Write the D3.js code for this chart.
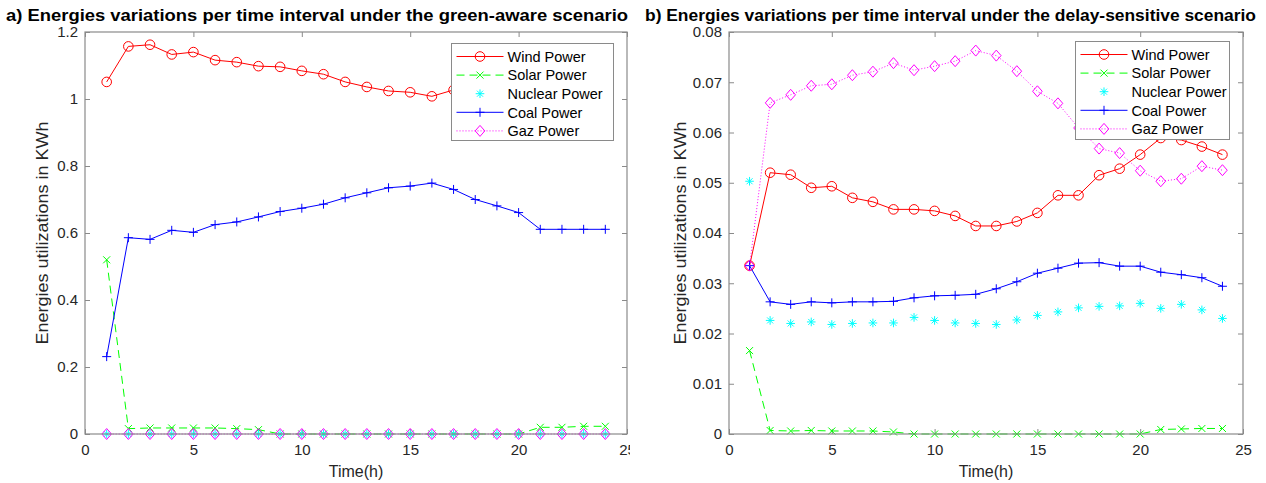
<!DOCTYPE html>
<html lang="en">
<head>
<meta charset="UTF-8" />
<title>Energies variations per time interval</title>
<style>
  body { margin: 0; background: #fff; font-family: "Liberation Sans", Arial, sans-serif; }
  svg { display: block; background: #fff; }
  .title { font-weight: bold; font-size: 17px; fill: #000; }
  .axis-label { font-size: 16px; fill: #262626; }
  .legend text { font-size: 14.5px; fill: #000; }
</style>
</head>
<body>
<svg width="1266" height="483"></svg>
<script src="https://d3js.org/d3.v7.min.js"></script>
<script>
// ---- data ----
const hours = [1, 2, 3, 4, 5, 6, 7, 8, 9, 10, 11, 12, 13, 14, 15, 16, 17, 18, 19, 20, 21, 22, 23, 24];
const seriesNames = ["Wind Power", "Solar Power", "Nuclear Power", "Coal Power", "Gaz Power"];

// a) green-aware scenario
const greenWind = [1.051, 1.157, 1.162, 1.133, 1.14, 1.116, 1.11, 1.098, 1.096, 1.084, 1.074, 1.051,
  1.036, 1.024, 1.02, 1.008, 1.027, 1.04, 1.06, 1.08, 1.09, 1.1, 1.1, 1.1];
const greenSolar = [0.52, 0.016, 0.018, 0.018, 0.018, 0.018, 0.016, 0.013, 0, 0, 0, 0,
  0, 0, 0, 0, 0, 0, 0, 0, 0.02, 0.02, 0.023, 0.023];
const greenNuclear = [0, 0, 0, 0, 0, 0, 0, 0, 0, 0, 0, 0, 0, 0, 0, 0, 0, 0, 0, 0, 0, 0, 0, 0];
const greenCoal = [0.231, 0.586, 0.581, 0.608, 0.602, 0.625, 0.633, 0.648, 0.664, 0.674, 0.686, 0.705,
  0.72, 0.735, 0.74, 0.749, 0.73, 0.7, 0.681, 0.661, 0.611, 0.611, 0.611, 0.611];
const greenGaz = [0, 0, 0, 0, 0, 0, 0, 0, 0, 0, 0, 0, 0, 0, 0, 0, 0, 0, 0, 0, 0, 0, 0, 0];

// b) delay-sensitive scenario
const delayWind = [0.0335, 0.052, 0.0516, 0.049, 0.0493, 0.047, 0.0462, 0.0447, 0.0447, 0.0444, 0.0434, 0.0414,
  0.0414, 0.0423, 0.044, 0.0475, 0.0475, 0.0515, 0.0528, 0.0556, 0.0589, 0.0585, 0.0572, 0.0556];
const delaySolar = [0.0166, 0.0007, 0.0006, 0.0007, 0.0006, 0.0006, 0.0006, 0.0004, 0, 0, 0, 0,
  0, 0, 0, 0, 0, 0, 0, 0, 0.0009, 0.001, 0.0011, 0.0011];
const delayNuclear = [0.0503, 0.0226, 0.022, 0.0223, 0.0218, 0.022, 0.0221, 0.0221, 0.0232, 0.0226, 0.0221, 0.022,
  0.0218, 0.0227, 0.0236, 0.0243, 0.0251, 0.0254, 0.0255, 0.026, 0.025, 0.0258, 0.0247, 0.023];
const delayCoal = [0.0335, 0.0263, 0.0258, 0.0263, 0.0261, 0.0263, 0.0263, 0.0264, 0.0271, 0.0275, 0.0276, 0.0278,
  0.0289, 0.0303, 0.032, 0.033, 0.034, 0.0341, 0.0334, 0.0334, 0.0322, 0.0317, 0.0311, 0.0294];
const delayGaz = [0.0335, 0.0659, 0.0675, 0.0693, 0.0696, 0.0714, 0.0721, 0.0738, 0.0724, 0.0732, 0.0742, 0.0763,
  0.0753, 0.0722, 0.0682, 0.0658, 0.0609, 0.0568, 0.0559, 0.0524, 0.0503, 0.0508, 0.0533, 0.0525];

const xTicks = [0, 5, 10, 15, 20, 25];
const greenYTicks = [0, 0.2, 0.4, 0.6, 0.8, 1, 1.2];
const delayYTicks = [0, 0.01, 0.02, 0.03, 0.04, 0.05, 0.06, 0.07, 0.08];

// ---- styles (MATLAB line specs r-o, g--x, c*, b-+, m:d) ----
const seriesStyles = [
  { color: "#ff0000", dash: null, line: true, marker: "circle" },
  { color: "#00ff00", dash: "8,5", line: true, marker: "x" },
  { color: "#00ffff", dash: null, line: false, marker: "star" },
  { color: "#0000ff", dash: null, line: true, marker: "plus" },
  { color: "#ff00ff", dash: "1,2", line: true, marker: "diamond" }
];

function markerPath(type) {
  switch (type) {
    case "circle": return d3.symbol(d3.symbolCircle, Math.PI * 4.8 * 4.8)();
    case "x": return "M-3.5,-3.5L3.5,3.5M-3.5,3.5L3.5,-3.5";
    case "plus": return "M-4.5,0H4.5M0,-4.5V4.5";
    case "star": return "M-4.3,0H4.3M0,-4.3V4.3M-3,-3L3,3M-3,3L3,-3";
    case "diamond": return "M0,-5.5L4.8,0L0,5.5L-4.8,0Z";
  }
}

const svg = d3.select("svg");

function drawPanel(p) {
  const g = svg.append("g");
  if (p.clipRight) {
    svg.append("clipPath").attr("id", p.id + "-clip")
      .append("rect").attr("x", 0).attr("y", 0).attr("width", p.clipRight).attr("height", 483);
    g.attr("clip-path", `url(#${p.id}-clip)`);
  }

  const x = d3.scaleLinear().domain([0, 25]).range([p.left, p.right]);
  const y = d3.scaleLinear().domain(p.yDomain).range([p.bottom, p.top]);

  // title
  g.append("text").attr("class", "title")
    .attr("x", p.titleX).attr("y", 21)
    .attr("textLength", p.titleWidth).attr("lengthAdjust", "spacingAndGlyphs")
    .text(p.title);

  // axes (ticks pointing inward, box on)
  const axisStyle = sel => {
    sel.select(".domain").remove();
  };
  g.append("g").attr("transform", `translate(0,${p.bottom})`)
    .call(d3.axisBottom(x).tickValues(xTicks).tickSizeInner(-5).tickSizeOuter(0).tickPadding(10)
      .tickFormat(d3.format("d")))
    .call(axisStyle);
  g.append("g").attr("transform", `translate(0,${p.top})`)
    .call(d3.axisTop(x).tickValues(xTicks).tickSizeInner(-5).tickSizeOuter(0).tickFormat(""))
    .call(axisStyle);
  g.append("g").attr("transform", `translate(${p.left},0)`)
    .call(d3.axisLeft(y).tickValues(p.yTicks).tickSizeInner(-5).tickSizeOuter(0).tickPadding(7)
      .tickFormat(d => String(+d.toFixed(3))))
    .call(axisStyle);
  g.append("g").attr("transform", `translate(${p.right},0)`)
    .call(d3.axisRight(y).tickValues(p.yTicks).tickSizeInner(-5).tickSizeOuter(0).tickFormat(""))
    .call(axisStyle);
  g.selectAll(".tick text")
    .attr("font-size", 15).attr("fill", "#262626")
    .attr("font-family", "'Liberation Sans', Arial, sans-serif");
  g.selectAll(".tick line").attr("stroke", "#8a8a8a");

  // series
  const line = d3.line().x(d => x(d[0])).y(d => y(d[1]));
  p.series.forEach((values, i) => {
    const st = seriesStyles[i];
    const pts = hours.map((h, k) => [h, values[k]]);
    if (st.line) {
      g.append("path").datum(pts)
        .attr("d", line)
        .attr("fill", "none")
        .attr("stroke", st.color)
        .attr("stroke-width", 1)
        .attr("stroke-dasharray", st.dash);
    }
    g.append("g").selectAll("path").data(pts).join("path")
      .attr("transform", d => `translate(${x(d[0])},${y(d[1])})`)
      .attr("d", markerPath(st.marker))
      .attr("fill", "none")
      .attr("stroke", st.color)
      .attr("stroke-width", 1);
  });

  // box
  g.append("rect")
    .attr("x", p.left).attr("y", p.top)
    .attr("width", p.right - p.left).attr("height", p.bottom - p.top)
    .attr("fill", "none").attr("stroke", "#8a8a8a").attr("stroke-width", 1.2);

  // axis labels
  g.append("text").attr("class", "axis-label")
    .attr("x", (p.left + p.right) / 2).attr("y", 477)
    .attr("text-anchor", "middle").text("Time(h)");
  g.append("text").attr("class", "axis-label")
    .attr("transform", `translate(${p.yLabelX},${(p.top + p.bottom) / 2}) rotate(-90)`)
    .attr("text-anchor", "middle")
    .attr("textLength", 223).attr("lengthAdjust", "spacingAndGlyphs")
    .text("Energies utilizations in KWh");

  // legend
  const lg = g.append("g").attr("class", "legend");
  lg.append("rect")
    .attr("x", p.legend.x).attr("y", p.legend.y)
    .attr("width", p.legend.w).attr("height", p.legend.h)
    .attr("fill", "#fff").attr("stroke", "#8a8a8a").attr("stroke-width", 1);
  seriesNames.forEach((name, i) => {
    const st = seriesStyles[i];
    const cy = p.legend.y + 13 + i * 18.6;
    const x0 = p.legend.x + 5, x1 = p.legend.x + 52;
    if (st.line) {
      lg.append("line")
        .attr("x1", x0).attr("x2", x1).attr("y1", cy).attr("y2", cy)
        .attr("stroke", st.color).attr("stroke-width", 1)
        .attr("stroke-dasharray", st.dash);
    }
    lg.append("path")
      .attr("transform", `translate(${(x0 + x1) / 2},${cy})`)
      .attr("d", markerPath(st.marker))
      .attr("fill", "none").attr("stroke", st.color).attr("stroke-width", 1);
    lg.append("text")
      .attr("x", x1 + 4).attr("y", cy).attr("dy", "0.36em")
      .text(name);
  });
}

drawPanel({
  id: "green",
  title: "a) Energies variations per time interval under the green-aware scenario",
  titleX: 6, titleWidth: 622,
  left: 85, right: 627, top: 32, bottom: 434,
  clipRight: 630,
  yDomain: [0, 1.2], yTicks: greenYTicks, yLabelX: 48,
  series: [greenWind, greenSolar, greenNuclear, greenCoal, greenGaz],
  legend: { x: 451.5, y: 43.5, w: 162, h: 97 }
});

drawPanel({
  id: "delay",
  title: "b) Energies variations per time interval under the delay-sensitive scenario",
  titleX: 645, titleWidth: 611,
  left: 729, right: 1243, top: 32, bottom: 434,
  yDomain: [0, 0.08], yTicks: delayYTicks, yLabelX: 686,
  series: [delayWind, delaySolar, delayNuclear, delayCoal, delayGaz],
  legend: { x: 1075.5, y: 41.5, w: 154, h: 98 }
});
</script>
</body>
</html>
